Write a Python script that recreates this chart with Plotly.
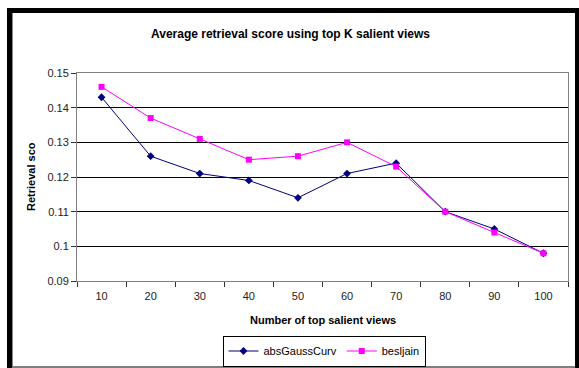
import plotly.graph_objects as go

# Number of top salient views (categories on the x axis)
views = ["10", "20", "30", "40", "50", "60", "70", "80", "90", "100"]

# Average retrieval score per method
abs_gauss_curv = [0.143, 0.126, 0.121, 0.119, 0.114, 0.121, 0.124, 0.110, 0.105, 0.098]
besl_jain = [0.146, 0.137, 0.131, 0.125, 0.126, 0.130, 0.123, 0.110, 0.104, 0.098]

y_ticks = [0.09, 0.10, 0.11, 0.12, 0.13, 0.14, 0.15]
y_tick_text = ["0.09", "0.1", "0.11", "0.12", "0.13", "0.14", "0.15"]

W, H = 579, 368
L, R, T, B = 77, 11, 73, 87
pw, ph = W - L - R, H - T - B


def px_x(p):
    return (p - L) / pw


def px_y(p):
    return (H - B - p) / ph


font = "Liberation Sans, Arial, sans-serif"

fig = go.Figure()
fig.add_trace(go.Scatter(
    x=views, y=abs_gauss_curv, name="absGaussCurv", mode="lines+markers",
    line=dict(color="#000080", width=1),
    marker=dict(symbol="diamond", size=6, color="#000080"),
))
fig.add_trace(go.Scatter(
    x=views, y=besl_jain, name="besljain", mode="lines+markers",
    line=dict(color="#FF00FF", width=1),
    marker=dict(symbol="square", size=6, color="#FF00FF"),
))

# outer frame
shapes = [
    dict(type="rect", xref="paper", yref="paper", x0=px_x(7), x1=px_x(12),
         y0=px_y(8), y1=px_y(368), fillcolor="black", line=dict(width=0), layer="above"),
    dict(type="rect", xref="paper", yref="paper", x0=px_x(7), x1=px_x(579),
         y0=px_y(8), y1=px_y(13), fillcolor="black", line=dict(width=0), layer="above"),
    dict(type="rect", xref="paper", yref="paper", x0=px_x(575), x1=px_x(579),
         y0=px_y(8), y1=px_y(368), fillcolor="black", line=dict(width=0), layer="above"),
    dict(type="line", xref="paper", yref="paper", x0=px_x(12), x1=px_x(575),
         y0=px_y(367), y1=px_y(367), line=dict(color="#555555", width=1.5), layer="above"),
    dict(type="line", xref="paper", yref="paper", x0=px_x(12.5), x1=px_x(12.5),
         y0=px_y(13), y1=px_y(367), line=dict(color="#888888", width=1), layer="above"),
]

annotations = [
    dict(text="<b>Average retrieval score using top K salient views</b>",
         xref="paper", yref="paper", x=px_x(290), y=px_y(34), showarrow=False,
         xanchor="center", yanchor="middle", font=dict(size=12, color="black", family=font)),
    dict(text="<b>Number of top salient views</b>",
         xref="paper", yref="paper", x=px_x(323), y=px_y(320), showarrow=False,
         xanchor="center", yanchor="middle", font=dict(size=11, color="black", family=font)),
    dict(text="<b>Retrieval sco</b>", textangle=-90,
         xref="paper", yref="paper", x=px_x(31), y=px_y(177), showarrow=False,
         xanchor="center", yanchor="middle", font=dict(size=11, color="black", family=font)),
]

fig.update_layout(
    width=W, height=H,
    margin=dict(l=L, r=R, t=T, b=B, autoexpand=False),
    paper_bgcolor="white", plot_bgcolor="white",
    font=dict(family=font, size=11, color="black"),
    showlegend=True,
    legend=dict(
        orientation="h", x=px_x(324), y=px_y(351), xanchor="center", yanchor="middle",
        bordercolor="black", borderwidth=1, bgcolor="white",
        font=dict(size=11, family=font), itemwidth=30,
        tracegroupgap=0,
    ),
    shapes=shapes,
    annotations=annotations,
)

fig.update_xaxes(
    type="category", range=[-0.5, 9.5], tickson="boundaries",
    ticks="outside", ticklen=5, tickcolor="#333333",
    showline=True, linecolor="#808080", linewidth=1, mirror=True,
    showgrid=False, tickfont=dict(size=11, color="#222222"),
    ticklabelstandoff=5,
)
fig.update_yaxes(
    range=[0.09, 0.15], tickvals=y_ticks, ticktext=y_tick_text,
    ticks="outside", ticklen=5, tickcolor="#333333",
    showline=True, linecolor="#808080", linewidth=1, mirror=True,
    showgrid=True, gridcolor="black", gridwidth=1, zeroline=False,
    tickfont=dict(size=11, color="#222222"),
)

fig.write_html("out.html")
